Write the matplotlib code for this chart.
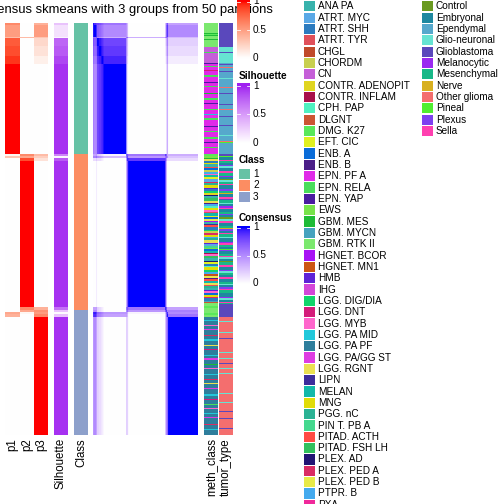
import numpy as np
import matplotlib
matplotlib.use("Agg")
import matplotlib.pyplot as plt
from matplotlib.colors import ListedColormap, to_rgb
from matplotlib.patches import Rectangle

plt.rcParams['font.family'] = ['Liberation Sans', 'DejaVu Sans']

# ---------------- data ----------------
title = "Consensus skmeans with 3 groups from 50 partitions"

# membership segments (rows, in top-to-bottom order)
seg_rows  = [2, 12, 1, 8, 10, 8, 90,   2, 2, 3, 146, 3,   2, 2, 3, 118]
seg_p1    = [0.6, 0.5, 0.35, 0.8, 0.85, 0.92, 1.0,   0.05, 0.3, 0.0, 0.0, 0.0,   0.0, 0.45, 0.4, 0.0]
seg_p2    = [0.0, 0.0, 0.35, 0.0, 0.0, 0.0, 0.0,    0.6, 0.45, 0.85, 1.0, 0.6,   0.45, 0.05, 0.0, 0.0]
seg_p3    = [0.4, 0.5, 0.3, 0.2, 0.15, 0.08, 0.0,   0.35, 0.25, 0.15, 0.0, 0.4,  0.55, 0.5, 0.6, 1.0]
seg_sil   = [0.3, 0.15, 0.05, 0.75, 0.8, 0.88, 0.95, 0.6, 0.05, 0.8, 0.95, 0.7,  0.3, 0.02, 0.3, 0.95]
seg_class = [1, 1, 1, 1, 1, 1, 1,   2, 2, 2, 2, 2,   3, 3, 3, 3]

class_levels = [1, 2, 3]
class_colors = ["#66C2A5", "#FC8D62", "#8DA0CB"]

meth_levels = ["ANA PA", "ATRT. MYC", "ATRT. SHH", "ATRT. TYR", "CHGL", "CHORDM", "CN",
               "CONTR. ADENOPIT", "CONTR. INFLAM", "CPH. PAP", "DLGNT", "DMG. K27", "EFT. CIC",
               "ENB. A", "ENB. B", "EPN. PF A", "EPN. RELA", "EPN. YAP", "EWS", "GBM. MES",
               "GBM. MYCN", "GBM. RTK II", "HGNET. BCOR", "HGNET. MN1", "HMB", "IHG",
               "LGG. DIG/DIA", "LGG. DNT", "LGG. MYB", "LGG. PA MID", "LGG. PA PF",
               "LGG. PA/GG ST", "LGG. RGNT", "LIPN", "MELAN", "MNG", "PGG. nC", "PIN T. PB A",
               "PITAD. ACTH", "PITAD. FSH LH", "PLEX. AD", "PLEX. PED A", "PLEX. PED B",
               "PTPR. B", "PXA"]
meth_colors = ["#38B2AC", "#5AA8E6", "#2C7BBF", "#E0505A", "#C04A2A", "#C8CF50", "#C55FD8",
               "#E0D520", "#A8104A", "#50F0C0", "#CC5533", "#5AE85A", "#E0F020",
               "#0A6CD8", "#4B1E88", "#E02AE8", "#4ADD5C", "#4A1CA0", "#77E34A", "#1EBB36",
               "#45A2BE", "#7BE86E", "#A812F5", "#CC5512", "#5E22D6", "#D446D8",
               "#12D46A", "#D41C7A", "#FF66CC", "#22C8DA", "#2E7E9C",
               "#DE3CE2", "#EAE052", "#3C2C9C", "#12B8AA", "#E0DC08", "#2AB294", "#44D88E",
               "#FF4B44", "#32C05E", "#221474", "#DA2C64", "#E8EA48",
               "#44AAEE", "#F0289A"]

tumor_levels = ["Control", "Embryonal", "Ependymal", "Glio-neuronal", "Glioblastoma",
                "Melanocytic", "Mesenchymal", "Nerve", "Other glioma", "Pineal", "Plexus", "Sella"]
tumor_colors = ["#6A9A20", "#1E88A0", "#56A8CC", "#66E3D2", "#5A48BC", "#9A2AF0",
                "#18B888", "#D8B020", "#F46E6E", "#50EE30", "#7E40F0", "#FF40B0"]

meth_runs = [
    # class 1
    ("GBM. RTK II", 10), ("GBM. MES", 1), ("DMG. K27", 1), ("GBM. MES", 1), ("GBM. RTK II", 3),
    ("GBM. MES", 1), ("GBM. RTK II", 7),
    ("CN", 5), ("EPN. RELA", 1), ("CN", 10),
    ("EPN. YAP", 1), ("EPN. PF A", 2), ("EPN. RELA", 1), ("EPN. PF A", 3), ("LGG. DNT", 1),
    ("EPN. PF A", 4), ("EPN. RELA", 2), ("EPN. PF A", 5), ("EPN. YAP", 1), ("EPN. PF A", 3),
    ("EPN. RELA", 1), ("EPN. PF A", 6), ("GBM. MES", 1), ("EPN. PF A", 4), ("EPN. RELA", 2),
    ("EPN. PF A", 3), ("EPN. YAP", 1), ("EPN. PF A", 5), ("EPN. RELA", 1), ("EPN. PF A", 4),
    ("LGG. PA MID", 1), ("EPN. PF A", 3), ("EPN. RELA", 2), ("EPN. PF A", 6), ("EPN. YAP", 1),
    ("EPN. PF A", 4), ("EPN. RELA", 1), ("EPN. PF A", 5), ("EPN. RELA", 2), ("EPN. PF A", 3),
    ("EPN. YAP", 1), ("EPN. PF A", 4), ("EPN. RELA", 1), ("EPN. PF A", 6),
    # class 2
    ("DMG. K27", 2), ("EWS", 2), ("GBM. MES", 1), ("LGG. RGNT", 2), ("ATRT. SHH", 2), ("MNG", 1),
    ("ANA PA", 3), ("PITAD. ACTH", 1), ("ENB. A", 2), ("CHORDM", 2), ("PTPR. B", 2),
    ("LGG. MYB", 1), ("MELAN", 2), ("EFT. CIC", 2), ("ATRT. MYC", 3), ("PLEX. PED A", 1),
    ("PGG. nC", 2), ("MNG", 3), ("HMB", 1), ("ATRT. SHH", 2), ("LGG. DIG/DIA", 2),
    ("CONTR. ADENOPIT", 2), ("PLEX. AD", 1), ("ANA PA", 2), ("PITAD. FSH LH", 3),
    ("LGG. RGNT", 2), ("ENB. B", 1), ("PTPR. B", 2), ("CPH. PAP", 2), ("MNG", 2),
    ("LGG. MYB", 2), ("ATRT. TYR", 1), ("MELAN", 3), ("EFT. CIC", 1), ("ENB. A", 2),
    ("PLEX. PED B", 2), ("HGNET. BCOR", 1), ("ANA PA", 2), ("LIPN", 1), ("PITAD. ACTH", 2),
    ("ATRT. SHH", 3), ("LGG. DIG/DIA", 1), ("CHORDM", 2), ("PLEX. PED A", 2), ("MNG", 2),
    ("PTPR. B", 1), ("PGG. nC", 2), ("LGG. RGNT", 3), ("HMB", 1), ("ATRT. MYC", 2),
    ("PIN T. PB A", 2), ("EWS", 1), ("ENB. A", 2), ("MELAN", 2), ("CONTR. INFLAM", 1),
    ("LGG. MYB", 2), ("PITAD. FSH LH", 2), ("ANA PA", 3), ("PLEX. AD", 1), ("EFT. CIC", 2),
    ("ATRT. SHH", 2), ("CPH. PAP", 1), ("MNG", 3), ("LGG. DIG/DIA", 2), ("PTPR. B", 2),
    ("HGNET. MN1", 1), ("CHGL", 1), ("PLEX. PED B", 2), ("ENB. B", 1), ("PITAD. ACTH", 2),
    ("MELAN", 2), ("LGG. RGNT", 2), ("ATRT. TYR", 1), ("PGG. nC", 2),
    ("ANA PA", 2), ("HMB", 1), ("LGG. MYB", 2), ("ENB. A", 2), ("MNG", 2), ("PLEX. PED A", 1),
    ("ATRT. SHH", 3),
    ("GBM. MYCN", 1), ("DLGNT", 1), ("GBM. RTK II", 3), ("DMG. K27", 2), ("GBM. RTK II", 2),
    # class 3
    ("GBM. RTK II", 3), ("DMG. K27", 2), ("GBM. RTK II", 2), ("LGG. PA PF", 3), ("LGG. PA MID", 1),
    ("LGG. PA PF", 4), ("LGG. MYB", 1), ("LGG. PA PF", 3), ("LGG. PA/GG ST", 1), ("LGG. PA PF", 5),
    ("PLEX. PED A", 1), ("LGG. PA PF", 3), ("LGG. PA MID", 2), ("LGG. PA PF", 4), ("LGG. RGNT", 1),
    ("LGG. PA PF", 3), ("LGG. DNT", 1), ("LGG. PA PF", 5), ("LGG. PA MID", 1), ("LGG. PA PF", 2),
    ("LGG. PA/GG ST", 2), ("LGG. PA PF", 4), ("GBM. MES", 1), ("LGG. PA PF", 3), ("LGG. MYB", 1),
    ("LGG. PA PF", 5), ("LGG. PA MID", 1), ("LGG. PA PF", 4), ("PLEX. PED A", 1), ("LGG. PA PF", 3),
    ("LGG. RGNT", 1), ("LGG. PA PF", 4), ("LGG. PA/GG ST", 1), ("LGG. PA PF", 5), ("LGG. PA MID", 2),
    ("LGG. PA PF", 3), ("LGG. DNT", 1), ("LGG. PA PF", 4), ("EPN. RELA", 1), ("LGG. PA PF", 3),
    ("LGG. MYB", 1), ("LGG. PA PF", 4), ("LGG. PA MID", 1), ("LGG. PA PF", 3), ("LGG. PA/GG ST", 1),
    ("LGG. PA PF", 6), ("PLEX. PED A", 1), ("LGG. PA PF", 4), ("LGG. PA MID", 1), ("LGG. PA PF", 5),
]

tumor_runs = [
    # class 1
    ("Glioblastoma", 24), ("Glio-neuronal", 5), ("Glioblastoma", 1), ("Glio-neuronal", 10),
    ("Ependymal", 1), ("Glioblastoma", 1), ("Ependymal", 2), ("Other glioma", 1), ("Ependymal", 3),
    ("Glioblastoma", 1), ("Ependymal", 6), ("Glio-neuronal", 1), ("Ependymal", 8),
    ("Other glioma", 1), ("Ependymal", 5), ("Glioblastoma", 1), ("Ependymal", 10),
    ("Glioblastoma", 1), ("Ependymal", 4), ("Other glioma", 1), ("Ependymal", 6),
    ("Glioblastoma", 1), ("Ependymal", 8), ("Glioblastoma", 1), ("Ependymal", 9),
    ("Glio-neuronal", 1), ("Ependymal", 5), ("Other glioma", 1), ("Pineal", 1), ("Ependymal", 11),
    # class 2
    ("Glioblastoma", 2), ("Pineal", 1), ("Embryonal", 3), ("Sella", 1), ("Mesenchymal", 2),
    ("Embryonal", 2), ("Plexus", 1), ("Glio-neuronal", 2), ("Embryonal", 3), ("Sella", 2),
    ("Mesenchymal", 3), ("Melanocytic", 1), ("Embryonal", 2), ("Control", 1), ("Glio-neuronal", 2),
    ("Mesenchymal", 2), ("Sella", 1), ("Embryonal", 4), ("Plexus", 2), ("Mesenchymal", 2),
    ("Nerve", 1), ("Embryonal", 3), ("Sella", 2), ("Glioblastoma", 1), ("Mesenchymal", 3),
    ("Glio-neuronal", 1), ("Embryonal", 2), ("Melanocytic", 2), ("Sella", 1), ("Embryonal", 3),
    ("Mesenchymal", 2), ("Plexus", 1), ("Embryonal", 2), ("Control", 2), ("Glio-neuronal", 2),
    ("Sella", 2), ("Embryonal", 3), ("Mesenchymal", 2), ("Nerve", 1), ("Plexus", 2),
    ("Embryonal", 2), ("Sella", 1), ("Mesenchymal", 3), ("Glio-neuronal", 1), ("Embryonal", 4),
    ("Melanocytic", 1), ("Sella", 2), ("Mesenchymal", 2), ("Embryonal", 2), ("Pineal", 1),
    ("Plexus", 1), ("Embryonal", 3), ("Mesenchymal", 2), ("Sella", 1), ("Glio-neuronal", 2),
    ("Embryonal", 2), ("Control", 1), ("Mesenchymal", 3), ("Sella", 2), ("Embryonal", 3),
    ("Plexus", 1), ("Glio-neuronal", 2), ("Mesenchymal", 2), ("Embryonal", 2),
    ("Sella", 2), ("Embryonal", 3), ("Mesenchymal", 2), ("Glio-neuronal", 1), ("Embryonal", 2),
    ("Plexus", 2), ("Sella", 1), ("Mesenchymal", 3), ("Embryonal", 4), ("Melanocytic", 1),
    ("Glio-neuronal", 2), ("Embryonal", 2), ("Sella", 1), ("Mesenchymal", 1),
    ("Glioblastoma", 6),
    # class 3
    ("Glioblastoma", 7), ("Other glioma", 4), ("Glio-neuronal", 1), ("Other glioma", 10),
    ("Glio-neuronal", 1), ("Other glioma", 5), ("Glioblastoma", 1), ("Other glioma", 13),
    ("Glio-neuronal", 1), ("Other glioma", 5), ("Glio-neuronal", 1), ("Other glioma", 4),
    ("Glioblastoma", 1), ("Other glioma", 4), ("Glio-neuronal", 1), ("Other glioma", 4),
    ("Glio-neuronal", 1), ("Other glioma", 19), ("Glio-neuronal", 1), ("Other glioma", 8),
    ("Glio-neuronal", 1), ("Other glioma", 8), ("Glioblastoma", 1), ("Other glioma", 6),
    ("Glioblastoma", 1), ("Other glioma", 9), ("Glioblastoma", 1), ("Other glioma", 6),
]

bottom_labels = ["p1", "p2", "p3", "Silhouette", "Class", "meth_class", "tumor_type"]

# ---------------- helpers ----------------
def _lab(rgb):
    c = np.asarray(rgb, float)
    lin = np.where(c <= 0.04045, c / 12.92, ((c + 0.055) / 1.055) ** 2.4)
    M = np.array([[0.4124564, 0.3575761, 0.1804375],
                  [0.2126729, 0.7151522, 0.0721750],
                  [0.0193339, 0.1191920, 0.9503041]])
    xyz = M @ lin / np.array([0.95047, 1.0, 1.08883])
    f = np.where(xyz > 216 / 24389, np.cbrt(xyz), (24389 / 27 * xyz + 16) / 116)
    return np.array([116 * f[1] - 16, 500 * (f[0] - f[1]), 200 * (f[1] - f[2])])

def _rgb(lab):
    L, a, b = lab
    fy = (L + 16) / 116
    fx = fy + a / 500
    fz = fy - b / 200
    f = np.array([fx, fy, fz])
    xyz = np.where(f ** 3 > 216 / 24389, f ** 3, (116 * f - 16) / (24389 / 27))
    xyz = xyz * np.array([0.95047, 1.0, 1.08883])
    Mi = np.array([[3.2404542, -1.5371385, -0.4985314],
                   [-0.9692660, 1.8760108, 0.0415560],
                   [0.0556434, -0.2040259, 1.0572252]])
    lin = np.clip(Mi @ xyz, 0, 1)
    c = np.where(lin <= 0.0031308, 12.92 * lin, 1.055 * lin ** (1 / 2.4) - 0.055)
    return np.clip(c, 0, 1)

def lab_cmap(c1):
    l0, l1 = _lab(to_rgb("white")), _lab(to_rgb(c1))
    cols = [_rgb(l0 + t * (l1 - l0)) for t in np.linspace(0, 1, 256)]
    return ListedColormap(cols)

def expand(runs, levels, colors):
    cmap = dict(zip(levels, colors))
    out = []
    for name, n in runs:
        out += [to_rgb(cmap[name])] * n
    return np.array(out)[:, None, :]

cm_prob = lab_cmap("red")
cm_sil = lab_cmap("#A020F0")
cm_cons = lab_cmap("blue")

# ---------------- derived matrices ----------------
rows = np.repeat(np.arange(len(seg_rows)), seg_rows)
P = np.stack([np.array(seg_p1)[rows], np.array(seg_p2)[rows], np.array(seg_p3)[rows]], axis=1)
sil = np.array(seg_sil)[rows]
cls = np.array(seg_class)[rows]
C = np.minimum(P[:, None, :], P[None, :, :]).sum(-1)

meth_img = expand(meth_runs, meth_levels, meth_colors)
tumor_img = expand(tumor_runs, tumor_levels, tumor_colors)
class_img = expand([(c, 1) for c in cls], class_levels, class_colors)

# ---------------- figure ----------------
W = H = 504
fig = plt.figure(figsize=(7, 7), dpi=72)
ax = fig.add_axes([0, 0, 1, 1])
ax.set_xlim(0, W)
ax.set_ylim(H, 0)
ax.set_autoscale_on(False)
ax.axis("off")

TOP, BOT = 23, 435
cols_x = {"p1": (5, 20), "p2": (20, 34), "p3": (34, 48), "Silhouette": (54, 68),
          "Class": (74, 88), "cons": (93, 198), "meth_class": (204, 218), "tumor_type": (219, 233)}

def put(img, key, **kw):
    x0, x1 = cols_x[key]
    ax.imshow(img, extent=[x0, x1, BOT, TOP], aspect="auto", origin="upper", zorder=1, **kw)

for k, name in enumerate(["p1", "p2", "p3"]):
    put(P[:, k:k + 1], name, cmap=cm_prob, vmin=0, vmax=1, interpolation="nearest")
put(sil[:, None], "Silhouette", cmap=cm_sil, vmin=0, vmax=1, interpolation="nearest")
put(class_img, "Class", interpolation="nearest")
put(C, "cons", cmap=cm_cons, vmin=0, vmax=1, interpolation="antialiased",
    interpolation_stage="rgba")
put(meth_img, "meth_class", interpolation="nearest")
put(tumor_img, "tumor_type", interpolation="nearest")

# title (drawn beneath the first legend bar)
ax.text(120, 10.5, title, fontsize=13, ha="center", va="center", zorder=0.5)

# bottom labels
for name in bottom_labels:
    x0, x1 = cols_x[name]
    ax.text((x0 + x1) / 2, 438, name, rotation=90, ha="center", va="top", fontsize=11.5)

# ---------------- legends ----------------
def colorbar(cmap, x0, x1, y_top, y_bot, y_one, y_zero, labels):
    ys = np.arange(y_top, y_bot, 0.5)
    v = np.clip((y_zero - ys) / (y_zero - y_one), 0, 1)
    ax.imshow(v[:, None], cmap=cmap, vmin=0, vmax=1, extent=[x0, x1, y_bot, y_top],
              aspect="auto", origin="upper", zorder=5, interpolation="nearest")
    for val, lab in labels:
        y = y_zero + (y_one - y_zero) * val
        ax.plot([x0, x0 + 3], [y, y], color="white", lw=0.8, zorder=6)
        ax.plot([x1 - 3, x1], [y, y], color="white", lw=0.8, zorder=6)
        ax.text(x1 + 3, y, lab, fontsize=10, ha="left", va="center", zorder=6)

ticks = [(1, "1"), (0.5, "0.5"), (0, "0")]
colorbar(cm_prob, 237, 250, -2, 59, 1.5, 58, ticks)
ax.text(239, 76, "Silhouette", fontsize=10, fontweight="bold", ha="left", va="center")
colorbar(cm_sil, 237, 250, 83, 143, 86, 142.5, ticks)
ax.text(239, 160, "Class", fontsize=10, fontweight="bold", ha="left", va="center")
for i, (lv, c) in enumerate(zip(class_levels, class_colors)):
    yc = 174 + i * 11.5
    ax.add_patch(Rectangle((239, yc - 5.3), 11, 10.6, facecolor=c, edgecolor="none", zorder=5))
    ax.text(253, yc, str(lv), fontsize=10, ha="left", va="center")
ax.text(239, 218, "Consensus", fontsize=10, fontweight="bold", ha="left", va="center")
colorbar(cm_cons, 237, 250, 226, 284, 227.5, 283.5, ticks)

def cat_legend(levels, colors, x):
    for i, (lv, c) in enumerate(zip(levels, colors)):
        yc = 6.3 + i * 11.33
        ax.add_patch(Rectangle((x, yc - 5.1), 11, 10.2, facecolor=c, edgecolor="none", zorder=5))
        ax.text(x + 14, yc, lv, fontsize=10, ha="left", va="center")

cat_legend(meth_levels, meth_colors, 304)
cat_legend(tumor_levels, tumor_colors, 422)

fig.savefig("out.png", dpi=72)
